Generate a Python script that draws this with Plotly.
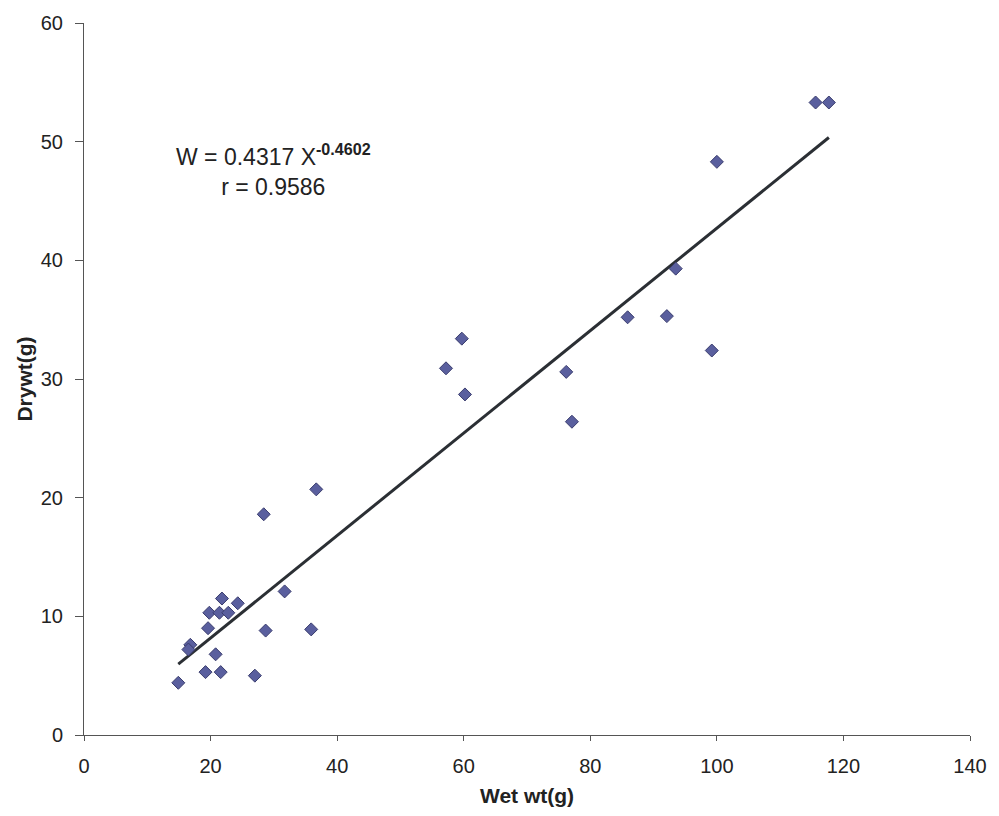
import plotly.graph_objects as go

# Data (Wet weight vs Dry weight, grams)
wet_wt = [14.9, 16.8, 16.5, 19.2, 21.6, 20.8, 19.6, 19.8, 21.4, 22.8,
          21.8, 24.3, 27.0, 28.7, 31.7, 35.9, 28.4, 36.7, 57.2, 59.7,
          60.2, 76.2, 77.1, 85.9, 92.1, 93.5, 99.2, 100.0, 115.6, 117.7]
dry_wt = [4.4, 7.6, 7.2, 5.3, 5.3, 6.8, 9.0, 10.3, 10.3, 10.3,
          11.5, 11.1, 5.0, 8.8, 12.1, 8.9, 18.6, 20.7, 30.9, 33.4,
          28.7, 30.6, 26.4, 35.2, 35.3, 39.3, 32.4, 48.3, 53.3, 53.3]

# Regression coefficients shown on the chart
slope = 0.4317
intercept = -0.4602
r_value = 0.9586

x_ticks = [0, 20, 40, 60, 80, 100, 120, 140]
y_ticks = [0, 10, 20, 30, 40, 50, 60]

line_x = [min(wet_wt), max(wet_wt)]
line_y = [slope * v + intercept for v in line_x]

FONT = "Liberation Sans, Arial, sans-serif"
TXT = "#222222"

fig = go.Figure()
fig.add_trace(go.Scatter(
    x=line_x, y=line_y, mode="lines",
    line=dict(color="#2b2f34", width=3),
    showlegend=False, hoverinfo="skip",
))
fig.add_trace(go.Scatter(
    x=wet_wt, y=dry_wt, mode="markers",
    marker=dict(symbol="diamond", size=10, color="#5a5f9e",
                line=dict(color="#3a3d6e", width=1)),
    showlegend=False,
))

fig.add_annotation(
    x=30.0, y=47.6, xref="x", yref="y",
    text=f"W = {slope} X<sup><b>{intercept}</b></sup><br>r = {r_value}",
    showarrow=False, align="center",
    font=dict(family=FONT, size=23, color=TXT),
)

fig.update_layout(
    width=999, height=816,
    margin=dict(l=84, r=22, t=21, b=81),
    paper_bgcolor="white", plot_bgcolor="white",
    font=dict(family=FONT, size=20, color=TXT),
    xaxis=dict(
        range=[0, 140], tickvals=x_ticks, showgrid=False, zeroline=False,
        showline=True, linecolor="#555555", linewidth=1,
        ticks="outside", ticklen=5, tickcolor="#555555",
        ticklabelstandoff=8, ticklabeloverflow="allow",
        tickfont=dict(family=FONT, size=20, color=TXT),
        title=dict(text="<b>Wet wt(g)</b>", standoff=12,
                   font=dict(family=FONT, size=21, color=TXT)),
    ),
    yaxis=dict(
        range=[0, 60], tickvals=y_ticks, showgrid=False, zeroline=False,
        showline=True, linecolor="#555555", linewidth=1,
        ticks="outside", ticklen=8, tickcolor="#555555",
        ticklabelstandoff=8, ticklabeloverflow="allow",
        tickfont=dict(family=FONT, size=20, color=TXT),
        title=dict(text="<b>Drywt(g)</b>", standoff=2,
                   font=dict(family=FONT, size=21, color=TXT)),
    ),
)

fig.write_html(
    "out.html",
    config={"displayModeBar": False},
    post_script="document.body.style.margin='0px';document.body.style.overflow='hidden';",
)
